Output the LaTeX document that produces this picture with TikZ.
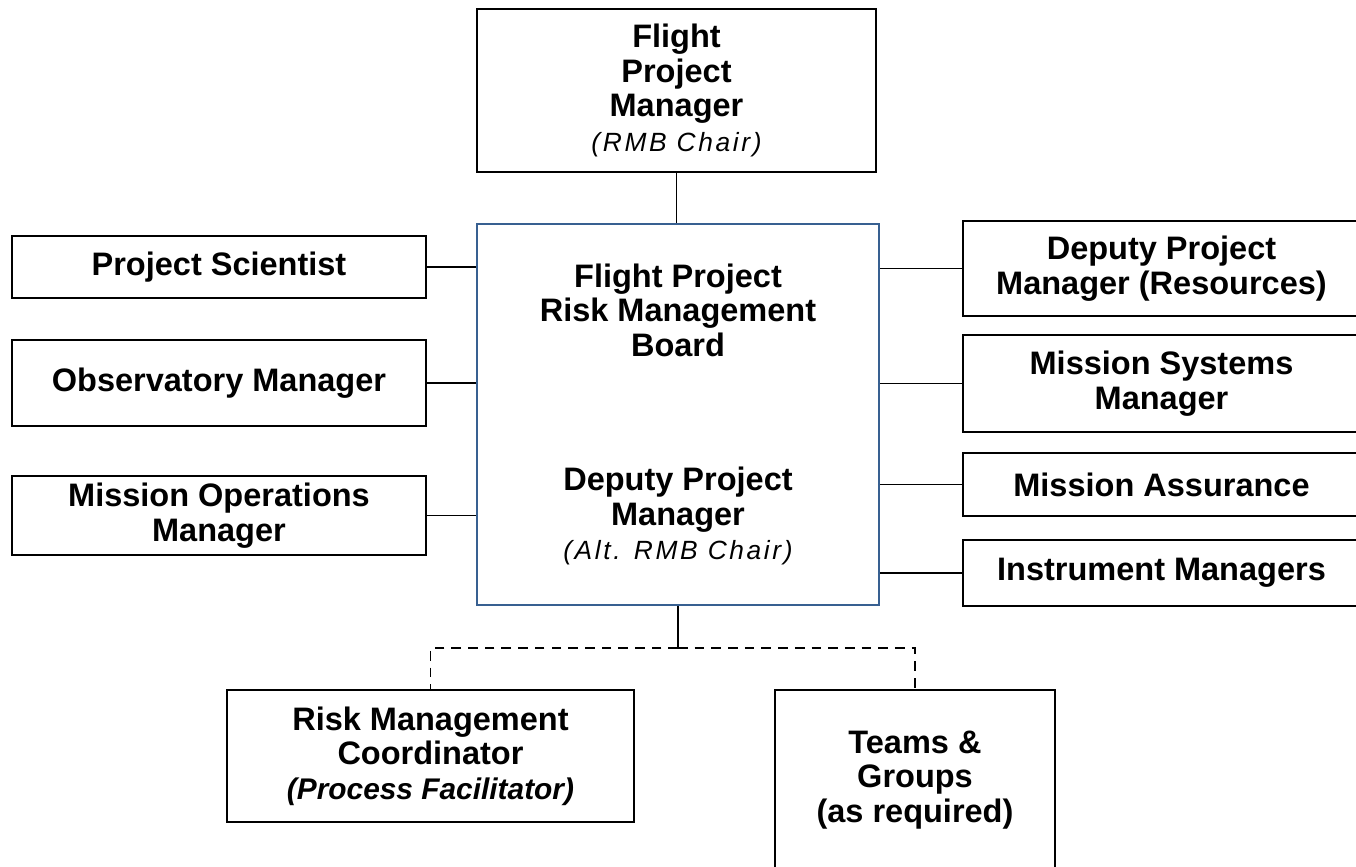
\documentclass[tikz,border=0pt]{standalone}
\usepackage{fontspec}
\setmainfont{Liberation Sans}
\definecolor{rmbblue}{RGB}{56,96,145}
\newcommand{\chairnote}[1]{{\fontsize{15}{16.5}\selectfont\mdseries\itshape\addfontfeature{LetterSpace=10}#1}}
\tikzset{%
orgbox/.style 2 args={draw,line width=1.1pt,inner sep=0pt,align=center,
  minimum width=#1*0.02cm,minimum height=#2*0.02cm,
  font=\bfseries\fontsize{18.5}{19.6}\selectfont},
rmbbox/.style 2 args={orgbox={#1}{#2},draw=rmbblue},
link/.style={line width=1.1pt},
dashlink/.style={link,dash pattern=on 5.5pt off 4pt}
}
\begin{document}
\begin{tikzpicture}[x=0.02cm,y=-0.02cm]
\useasboundingbox (0,0) rectangle (1356,866);
% board and its chair
\node[orgbox={399}{163}] (fpm) at (676.5,90.5) {Flight\\Project\\Manager\\\chairnote{(RMB Chair)}};
\node[rmbbox={402}{381}] (rmb) at (678,414.5) {Flight Project\\Risk Management\\Board\\[2.0cm]Deputy Project\\Manager\\\chairnote{(Alt. RMB Chair)}};
% members on the left
\node[orgbox={414}{62}] (ps) at (219,267) {Project Scientist};
\node[orgbox={414}{86}] (om) at (219,383) {Observatory Manager};
\node[orgbox={414}{79}] (mom) at (219,515.5) {Mission Operations\\Manager};
% members on the right
\node[orgbox={397}{95}] (dpm) at (1161.5,268.5) {Deputy Project\\Manager (Resources)};
\node[orgbox={397}{97}] (msm) at (1161.5,383.5) {Mission Systems\\Manager};
\node[orgbox={397}{63}] (ma) at (1161.5,484.5) {Mission Assurance};
\node[orgbox={397}{66}] (im) at (1161.5,573) {Instrument Managers};
% support below
\node[orgbox={407}{132}] (rmc) at (430.5,756) {Risk Management\\Coordinator\\{\fontsize{17}{19}\selectfont\itshape(Process Facilitator)}};
\node[orgbox={280}{180}] (tg) at (915,780) {Teams \&\\Groups\\(as required)};
% connectors
\draw[link] (fpm.south) -- (fpm.south |- rmb.north);
\foreach \m in {ps,om,mom}
  \draw[link] (\m.east) -- (\m.east -| rmb.west);
\foreach \m in {dpm,msm,ma,im}
  \draw[link] (\m.west) -- (\m.west -| rmb.east);
\draw[link] (rmb.south) -- ++(0,42) coordinate (split);
\draw[dashlink] (split) -- (split -| rmc.north) -- (rmc.north);
\draw[dashlink] (split) -- (split -| tg.north) -- (tg.north);
\end{tikzpicture}
\end{document}
